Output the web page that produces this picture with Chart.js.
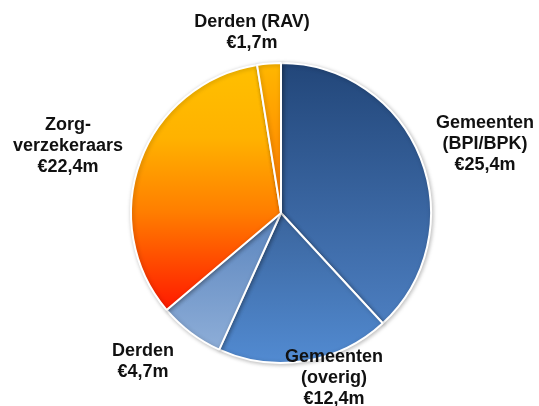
<!DOCTYPE html>
<html>
<head>
<meta charset="utf-8">
<script src="https://cdn.jsdelivr.net/npm/chart.js@4/dist/chart.umd.min.js"></script>
<style>
  html, body { margin: 0; padding: 0; background: #fff; }
  #wrap { width: 539px; height: 406px; }
</style>
</head>
<body>
<div id="wrap"><canvas id="pie" width="539" height="406"></canvas></div>
<script>
// Data
const CATEGORIES = [['Gemeenten', '(BPI/BPK)'], ['Gemeenten', '(overig)'], ['Derden'], ['Zorg-', 'verzekeraars'], ['Derden (RAV)']];
const VALUES = [25.4, 12.4, 4.7, 22.4, 1.7];

// Gradient stops per slice (top -> bottom of the slice)
const SLICE_STOPS = [
  [[0, '#224679'], [1, '#4c7ec0']],
  [[0, '#3a649c'], [1, '#528bd2']],
  [[0, '#5a84bd'], [1, '#8eaed8']],
  [[0, '#ffc000'], [0.3, '#ffb200'], [0.6, '#ff7e00'], [1, '#ff1800']],
  [[0, '#ffb800'], [1, '#ff7400']],
];

// Label anchors (centre of first line) and line height
const LABEL_POS = [[485, 123], [334, 357], [143, 351], [68, 125], [252, 22]];
const LINE_H = 21;

function euro(v) {
  return '€' + v.toFixed(1).replace('.', ',') + 'm';
}

function sliceGradient(context) {
  const chart = context.chart;
  const area = chart.chartArea;
  const i = context.dataIndex;
  if (!area) return SLICE_STOPS[i][0][1];
  const cx = (area.left + area.right) / 2;
  const cy = (area.top + area.bottom) / 2;
  const r = Math.min(area.right - area.left, area.bottom - area.top) / 2;
  const total = VALUES.reduce((s, v) => s + v, 0);
  let before = 0;
  for (let k = 0; k < i; k++) before += VALUES[k];
  const a0 = before / total * Math.PI * 2;
  const a1 = (before + VALUES[i]) / total * Math.PI * 2;
  // y extent of the sector (angle measured clockwise from top)
  const ys = [cy, cy - r * Math.cos(a0), cy - r * Math.cos(a1)];
  if (a0 <= Math.PI && a1 >= Math.PI) ys.push(cy + r);
  const top = Math.min(...ys), bottom = Math.max(...ys);
  const g = chart.ctx.createLinearGradient(0, top, 0, bottom);
  SLICE_STOPS[i].forEach(([p, c]) => g.addColorStop(p, c));
  return g;
}

const labelPlugin = {
  id: 'sliceLabels',
  afterDraw(chart) {
    const ctx = chart.ctx;
    ctx.save();
    ctx.font = 'bold 18px "Liberation Sans", Arial, sans-serif';
    ctx.fillStyle = '#111';
    ctx.textAlign = 'center';
    ctx.textBaseline = 'middle';
    CATEGORIES.forEach((lines, i) => {
      const all = lines.concat([euro(VALUES[i])]);
      const [x, y] = LABEL_POS[i];
      all.forEach((t, j) => ctx.fillText(t, x, y + j * LINE_H));
    });
    ctx.restore();
  }
};

const shadowPlugin = {
  id: 'pieShadow',
  beforeDatasetsDraw(chart) {
    const ctx = chart.ctx;
    ctx.save();
    ctx.shadowColor = 'rgba(0,0,0,0.25)';
    ctx.shadowBlur = 4;
    ctx.shadowOffsetX = 1;
    ctx.shadowOffsetY = 1;
  },
  afterDatasetsDraw(chart) {
    chart.ctx.restore();
  }
};

new Chart(document.getElementById('pie').getContext('2d'), {
  type: 'pie',
  data: {
    labels: CATEGORIES.map(l => l.join(' ')),
    datasets: [{
      data: VALUES,
      backgroundColor: sliceGradient,
      borderColor: '#ffffff',
      borderWidth: 2,
    }],
  },
  options: {
    responsive: false,
    animation: false,
    layout: { padding: { left: 130, right: 107, top: 62, bottom: 42 } },
    plugins: {
      legend: { display: false },
      tooltip: { enabled: false },
    },
  },
  plugins: [shadowPlugin, labelPlugin],
});
</script>
</body>
</html>
